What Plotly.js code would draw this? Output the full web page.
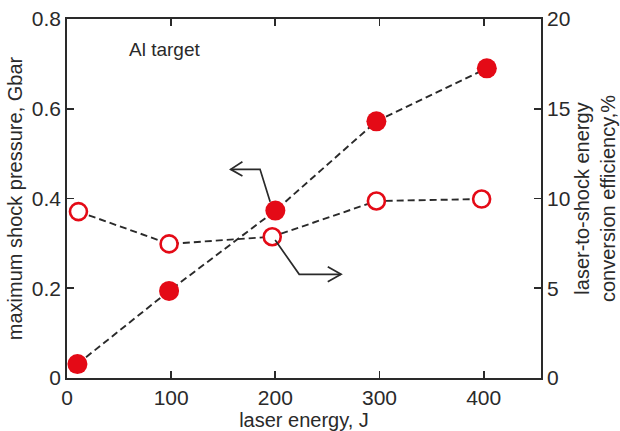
<!DOCTYPE html>
<html>
<head>
<meta charset="utf-8">
<script src="https://cdn.plot.ly/plotly-3.0.1.min.js"></script>
<style>html,body{margin:0;padding:0;background:#fff;}#chart{width:620px;height:431px;}</style>
</head>
<body>
<div id="chart"></div>
<script>
// Data
var pressureEnergy = [10, 98, 200, 297, 403];
var pressureGbar = [0.031, 0.194, 0.373, 0.572, 0.690];
var efficiencyEnergy = [11, 98, 197, 297, 398];
var efficiencyPct = [9.27, 7.47, 7.87, 9.86, 9.97];
var xTicks = [0, 100, 200, 300, 400];
var yLeftTicks = [0, 0.2, 0.4, 0.6, 0.8];
var yRightTicks = [0, 5, 10, 15, 20];

// Annotation arrows (in data coordinates of x / left y)
var leftArrowX = [195, 185.3, 157.1];
var leftArrowY = [0.393, 0.465, 0.465];
var leftHeadX = [168.4, 157.1, 168.4];
var leftHeadY = [0.482, 0.465, 0.450];
var rightArrowX = [199.8, 222.9, 263.1];
var rightArrowY = [0.3075, 0.231, 0.231];
var rightHeadX = [250.3, 263.1, 250.3];
var rightHeadY = [0.248, 0.231, 0.2146];

var red = 'rgb(228,10,22)';
var ink = '#2a2a2a';
var font = 'Liberation Sans, Arial, sans-serif';

function pathFrom(xs, ys) {
  var d = '';
  for (var i = 0; i < xs.length; i++) d += (i ? ' L ' : 'M ') + xs[i] + ',' + ys[i];
  return d;
}

var traces = [
  {
    x: efficiencyEnergy, y: efficiencyPct, yaxis: 'y2', type: 'scatter', mode: 'lines',
    line: {color: ink, width: 1.9, dash: '7px,4px'}, hoverinfo: 'skip', showlegend: false
  },
  {
    x: pressureEnergy, y: pressureGbar, type: 'scatter', mode: 'lines',
    line: {color: ink, width: 1.9, dash: '7px,4px'}, hoverinfo: 'skip', showlegend: false
  },
  {
    x: efficiencyEnergy, y: efficiencyPct, yaxis: 'y2', type: 'scatter', mode: 'markers',
    marker: {size: 17, color: '#fff', line: {color: red, width: 2.6}}, showlegend: false
  },
  {
    x: pressureEnergy, y: pressureGbar, type: 'scatter', mode: 'markers',
    marker: {size: 20, color: red, line: {width: 0}}, showlegend: false
  }
];

var shapeLine = {color: ink, width: 1.7};
var layout = {
  width: 620, height: 431,
  margin: {l: 67, r: 79, t: 19, b: 53},
  paper_bgcolor: '#fff', plot_bgcolor: '#fff',
  font: {family: font, size: 21, color: ink},
  showlegend: false,
  xaxis: {
    range: [0, 455], tickvals: xTicks, ticks: 'inside', ticklen: 7, tickwidth: 1.8,
    tickcolor: ink, showline: true, linecolor: ink, linewidth: 1.8, mirror: 'ticks',
    showgrid: false, zeroline: false, tickfont: {size: 21},
    title: {text: 'laser energy, J', font: {size: 20}, standoff: 0}
  },
  yaxis: {
    range: [0, 0.8], tickvals: yLeftTicks, ticks: 'inside', ticklen: 7, tickwidth: 1.8,
    tickcolor: ink, showline: true, linecolor: ink, linewidth: 1.8,
    showgrid: false, zeroline: false, tickfont: {size: 21},
    title: {text: 'maximum shock pressure, Gbar', font: {size: 20}, standoff: 4}
  },
  yaxis2: {
    range: [0, 20], tickvals: yRightTicks, overlaying: 'y', side: 'right',
    ticks: 'inside', ticklen: 7, tickwidth: 1.8, tickcolor: ink,
    showline: true, linecolor: ink, linewidth: 1.8,
    showgrid: false, zeroline: false, tickfont: {size: 21},
    title: {text: 'laser-to-shock energy<br>conversion efficiency,%', font: {size: 20}, standoff: 6}
  },
  shapes: [
    {type: 'path', xref: 'x', yref: 'y', path: pathFrom(leftArrowX, leftArrowY), line: shapeLine},
    {type: 'path', xref: 'x', yref: 'y', path: pathFrom(leftHeadX, leftHeadY), line: shapeLine},
    {type: 'path', xref: 'x', yref: 'y', path: pathFrom(rightArrowX, rightArrowY), line: shapeLine},
    {type: 'path', xref: 'x', yref: 'y', path: pathFrom(rightHeadX, rightHeadY), line: shapeLine}
  ],
  annotations: [
    {text: 'Al target', x: 58, y: 0.731, xref: 'x', yref: 'y', xanchor: 'left', yanchor: 'middle',
     showarrow: false, font: {size: 19, color: ink}}
  ]
};

Plotly.newPlot('chart', traces, layout, {displayModeBar: false, staticPlot: true});
</script>
</body>
</html>
